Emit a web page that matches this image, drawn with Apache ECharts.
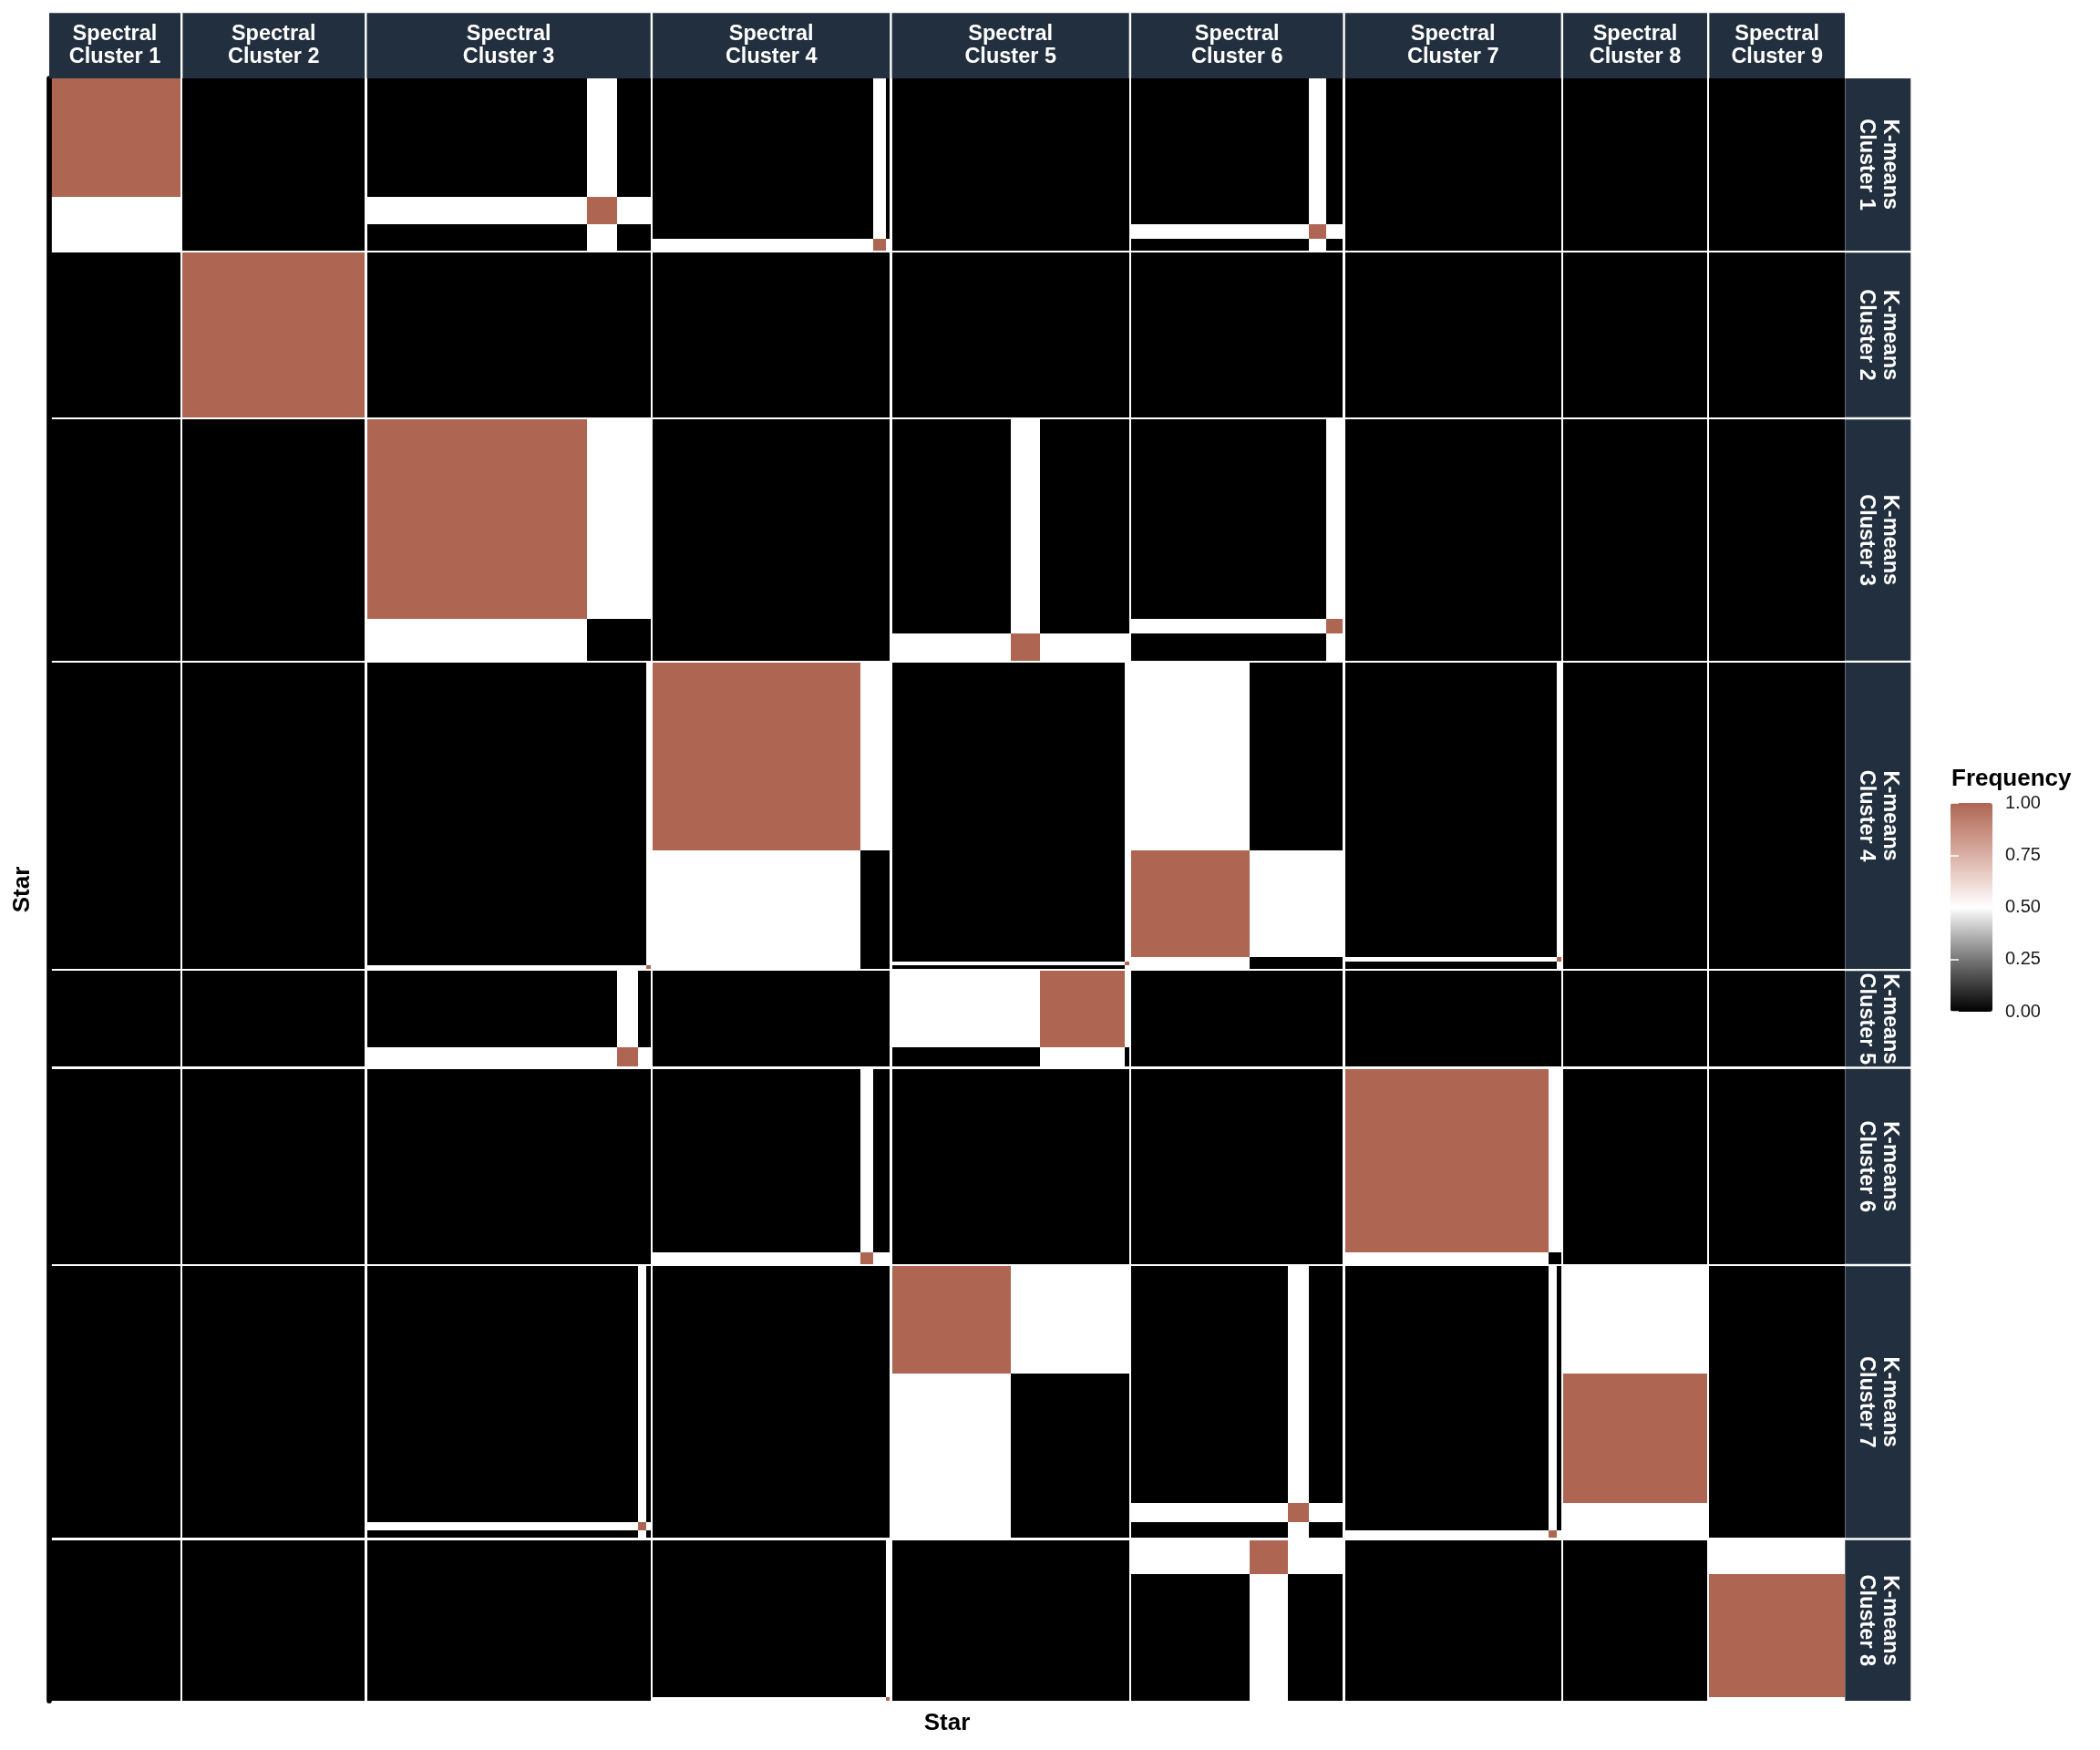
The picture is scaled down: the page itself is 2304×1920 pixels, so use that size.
<!DOCTYPE html>
<html>
<head>
<meta charset="utf-8">
<script src="https://cdn.jsdelivr.net/npm/echarts@6/dist/echarts.min.js"></script>
<style>
  html, body { margin: 0; padding: 0; background: #ffffff; }
  #chart { width: 2304px; height: 1920px; }
</style>
</head>
<body>
<div id="chart"></div>
<script>
// ---------------- DATA ----------------
// Column facets: spectral clusters
const spectralClusters = ['Spectral\nCluster 1', 'Spectral\nCluster 2', 'Spectral\nCluster 3',
  'Spectral\nCluster 4', 'Spectral\nCluster 5', 'Spectral\nCluster 6', 'Spectral\nCluster 7',
  'Spectral\nCluster 8', 'Spectral\nCluster 9'];
// Row facets: k-means clusters
const kmeansClusters = ['K-means\nCluster 1', 'K-means\nCluster 2', 'K-means\nCluster 3',
  'K-means\nCluster 4', 'K-means\nCluster 5', 'K-means\nCluster 6', 'K-means\nCluster 7',
  'K-means\nCluster 8'];
// Stars of each spectral cluster along x (left to right): [k-means cluster of the star, number of stars]
const xStarGroups = [
  [[1, 31]],
  [[2, 43]],
  [[3, 52], [1, 7], [5, 5], [7, 2], [4, 1]],
  [[4, 49], [6, 3], [1, 3], [8, 1]],
  [[7, 28], [3, 7], [5, 20], [4, 1]],
  [[4, 28], [8, 9], [7, 5], [1, 4], [3, 4]],
  [[6, 48], [7, 2], [4, 1]],
  [[7, 34]],
  [[8, 32]]
];
// Stars of each k-means cluster along y (top to bottom): [spectral cluster of the star, number of stars]
const yStarGroups = [
  [[1, 31], [3, 7], [6, 4], [4, 3]],
  [[2, 43]],
  [[3, 52], [6, 4], [5, 7]],
  [[4, 49], [6, 28], [7, 1], [5, 1], [3, 1]],
  [[5, 20], [3, 5]],
  [[7, 48], [4, 3]],
  [[5, 28], [8, 34], [6, 5], [3, 2], [7, 2]],
  [[6, 9], [9, 32], [4, 1]]
];
// Colour bar
const legendTicks = [0, 0.25, 0.5, 0.75, 1];
const legendColors = ['#000000', '#3b3b3b', '#777777', '#b9b9b9', '#ffffff',
  '#edd7d1', '#dab0a5', '#c58b7b', '#ae6653'];

// ---------------- LAYOUT ----------------
const FONT = '"Liberation Sans", Arial, Helvetica, sans-serif';
const GRID = { left: 54, top: 86, width: 1970, height: 1780 };
const GAP = 2.4;            // white space between facets, px
const STRIP_TOP = 14.3;     // top of the column strips, px
const STRIP_W = 72;         // width of the row strips, px
const STRIP_BG = '#222f3e';

const sum = a => a.reduce((s, v) => s + v, 0);
const colTotals = xStarGroups.map(g => sum(g.map(d => d[1])));
const rowTotals = yStarGroups.map(g => sum(g.map(d => d[1])));
const N = sum(colTotals);
const gx = GAP * N / (GRID.width - GAP * (colTotals.length - 1));
const gy = GAP * N / (GRID.height - GAP * (rowTotals.length - 1));

const colStart = [];
let accX = 0;
colTotals.forEach(t => { colStart.push(accX); accX += t + gx; });
const xMax = accX - gx;
const rowStart = [];
let accY = 0;
rowTotals.forEach(t => { rowStart.push(accY); accY += t + gy; });
const yMax = accY - gy;

// Tiles: co-clustering frequency of star pairs across the two methods
const tiles = [];
spectralClusters.forEach((_, c) => {
  kmeansClusters.forEach((__, r) => {
    let xo = colStart[c];
    xStarGroups[c].forEach(([k, n]) => {
      let yo = rowStart[r];
      yStarGroups[r].forEach(([s, m]) => {
        const freq = ((k === r + 1 ? 1 : 0) + (s === c + 1 ? 1 : 0)) / 2;
        tiles.push([xo, xo + n, yo, yo + m, freq]);
        yo += m;
      });
      xo += n;
    });
  });
});

const colStripData = colStart.map((x0, i) => [x0, x0 + colTotals[i], i]);
const rowStripData = rowStart.map((y0, i) => [y0, y0 + rowTotals[i], i]);

const chart = echarts.init(document.getElementById('chart'), null, { renderer: 'canvas' });

const stripText = {
  fill: '#ffffff',
  font: 'bold 23.5px ' + FONT,
  align: 'center', verticalAlign: 'middle',
  textAlign: 'center', textVerticalAlign: 'middle',
  lineHeight: 25.5
};

chart.setOption({
  backgroundColor: '#ffffff',
  animation: false,
  grid: [
    { left: GRID.left, top: GRID.top, width: GRID.width, height: GRID.height },
    { left: 2140, top: 881, width: 46, height: 229 }
  ],
  xAxis: [
    {
      type: 'value', gridIndex: 0, min: 0, max: xMax,
      name: 'Star', nameLocation: 'middle', nameGap: 12,
      nameTextStyle: { fontFamily: FONT, fontWeight: 'bold', fontSize: 26, color: '#000' },
      axisLine: { show: false }, axisTick: { show: false }, axisLabel: { show: false },
      splitLine: { show: false }
    },
    { type: 'value', gridIndex: 1, min: 0, max: 1, show: false }
  ],
  yAxis: [
    {
      type: 'value', gridIndex: 0, min: 0, max: yMax, inverse: true,
      name: 'Star', nameLocation: 'middle', nameGap: 16,
      nameTextStyle: { fontFamily: FONT, fontWeight: 'bold', fontSize: 26, color: '#000' },
      axisLine: { show: true, onZero: false, lineStyle: { color: '#000', width: 5.7 } },
      axisTick: { show: false }, axisLabel: { show: false }, splitLine: { show: false },
      z: 5
    },
    {
      type: 'value', gridIndex: 1, min: 0, max: 1, interval: 0.25, position: 'right',
      axisLine: { show: false },
      axisTick: { show: true, inside: true, length: 9, lineStyle: { color: '#ffffff', width: 1.5 } },
      axisLabel: {
        show: true, margin: 14, fontSize: 20, fontFamily: FONT, color: '#1a1a1a',
        formatter: v => (legendTicks.indexOf(v) >= 0 ? v.toFixed(2) : '')
      },
      splitLine: { show: false }, z: 10
    },
    {
      type: 'value', gridIndex: 1, min: 0, max: 1, interval: 0.25, position: 'left',
      axisLine: { show: false },
      axisTick: { show: true, inside: true, length: 9, lineStyle: { color: '#ffffff', width: 1.5 } },
      axisLabel: { show: false }, splitLine: { show: false }, z: 10
    }
  ],
  visualMap: {
    type: 'continuous', min: 0, max: 1, dimension: 4, seriesIndex: 0,
    show: true, calculable: false, hoverLink: false,
    orient: 'vertical', left: 2140, top: 881, itemWidth: 46, itemHeight: 229, padding: 0,
    inRange: { color: legendColors }
  },
  graphic: [
    {
      type: 'text', x: 2141, y: 855, z: 20,
      style: { text: 'Frequency', font: 'bold 26px ' + FONT, fill: '#000',
        verticalAlign: 'middle', textVerticalAlign: 'middle' }
    }
  ],
  series: [
    {
      type: 'custom', name: 'tiles', xAxisIndex: 0, yAxisIndex: 0,
      data: tiles, dimensions: ['x0', 'x1', 'y0', 'y1', 'freq'],
      encode: { x: [0, 1], y: [2, 3] },
      clip: false, silent: true,
      renderItem: (params, api) => {
        const p0 = api.coord([api.value(0), api.value(2)]);
        const p1 = api.coord([api.value(1), api.value(3)]);
        // snap to whole pixels so neighbouring tiles share edges without seams
        const xa = Math.round(Math.min(p0[0], p1[0]));
        const xb = Math.round(Math.max(p0[0], p1[0]));
        const ya = Math.round(Math.min(p0[1], p1[1]));
        const yb = Math.round(Math.max(p0[1], p1[1]));
        return {
          type: 'rect',
          shape: { x: xa, y: ya, width: xb - xa, height: yb - ya },
          style: { fill: api.visual('color') }
        };
      }
    },
    {
      type: 'custom', name: 'colStrips', xAxisIndex: 0, yAxisIndex: 0,
      data: colStripData, encode: { x: [0, 1] }, clip: false, silent: true, z: 6,
      renderItem: (params, api) => {
        const a = api.coord([api.value(0), 0]);
        const b = api.coord([api.value(1), 0]);
        const h = GRID.top - STRIP_TOP;
        return {
          type: 'group',
          children: [
            { type: 'rect', shape: { x: a[0], y: STRIP_TOP, width: b[0] - a[0], height: h },
              style: { fill: STRIP_BG } },
            { type: 'text', x: (a[0] + b[0]) / 2, y: STRIP_TOP + h / 2,
              style: Object.assign({ text: spectralClusters[api.value(2)] }, stripText) }
          ]
        };
      }
    },
    {
      type: 'custom', name: 'rowStrips', xAxisIndex: 0, yAxisIndex: 0,
      data: rowStripData, encode: { y: [0, 1] }, clip: false, silent: true, z: 6,
      renderItem: (params, api) => {
        const a = api.coord([0, api.value(0)]);
        const b = api.coord([0, api.value(1)]);
        const x0 = GRID.left + GRID.width + 0.3;
        return {
          type: 'group',
          children: [
            { type: 'rect', shape: { x: x0, y: a[1], width: STRIP_W, height: b[1] - a[1] },
              style: { fill: STRIP_BG } },
            { type: 'text', x: x0 + STRIP_W / 2, y: (a[1] + b[1]) / 2, rotation: -Math.PI / 2,
              style: Object.assign({ text: kmeansClusters[api.value(2)] }, stripText) }
          ]
        };
      }
    },
    {
      type: 'custom', name: 'legendAxis', xAxisIndex: 1, yAxisIndex: 1,
      data: [], renderItem: () => null
    }
  ]
});
</script>
</body>
</html>
